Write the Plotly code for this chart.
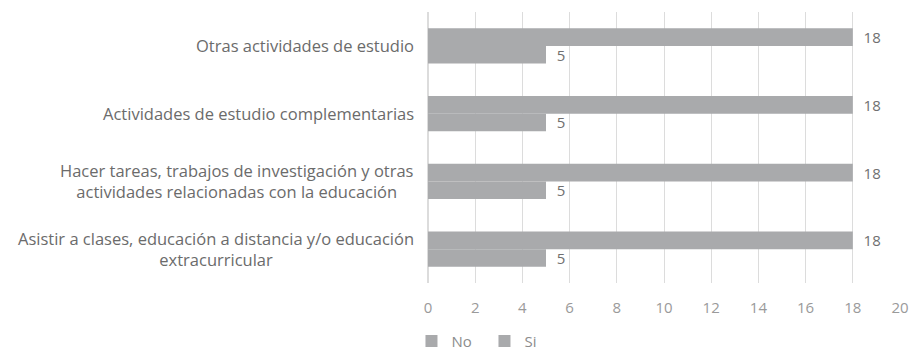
import plotly.graph_objects as go

# Categories listed from bottom to top of the chart
categorias = [
    "Asistir a clases, educación a distancia y/o educación<br>extracurricular",
    "Hacer tareas, trabajos de investigación y otras<br>actividades relacionadas con la educación",
    "Actividades de estudio complementarias",
    "Otras actividades de estudio",
]
valores_no = [18, 18, 18, 18]
valores_si = [5, 5, 5, 5]
ticks_x = [0, 2, 4, 6, 8, 10, 12, 14, 16, 18, 20]

FONT = "Open Sans"
BAR_COLOR = "#a9aaac"

fig = go.Figure()
# "Si" is added first so that it sits below "No" within each group
fig.add_trace(go.Bar(
    name="Si", y=categorias, x=valores_si, orientation="h",
    marker=dict(color=BAR_COLOR, line=dict(width=0)),
    text=["  " + str(v) for v in valores_si], textposition="outside",
    constraintext="none",
    textfont=dict(color="#707070", size=15, family=FONT),
    cliponaxis=False, legendrank=2,
))
fig.add_trace(go.Bar(
    name="No", y=categorias, x=valores_no, orientation="h",
    marker=dict(color=BAR_COLOR, line=dict(width=0)),
    text=["  " + str(v) for v in valores_no], textposition="outside",
    constraintext="none",
    textfont=dict(color="#707070", size=15, family=FONT),
    cliponaxis=False, legendrank=1,
))

# Category labels drawn as centred annotations next to the axis
for c in categorias:
    fig.add_annotation(
        xref="paper", yref="y", x=0, y=c, text=c, showarrow=False,
        xanchor="right", xshift=-12, align="center",
        font=dict(color="#6b6b6b", size=16.5, family=FONT),
    )

fig.update_layout(
    width=911, height=355,
    margin=dict(l=428, r=11, t=12, b=72, autoexpand=False),
    paper_bgcolor="white", plot_bgcolor="white",
    barmode="group", bargap=0.48, bargroupgap=0,
    font=dict(family=FONT, color="#8c8c8c", size=15),
    showlegend=True,
    legend=dict(
        orientation="h", x=-0.035, xanchor="left", y=-0.215, yanchor="middle",
        font=dict(size=15, color="#8c8c8c", family=FONT),
        itemwidth=30, tracegroupgap=0, entrywidth=28, entrywidthmode="pixels",
    ),
    xaxis=dict(
        range=[0, 20], tickvals=ticks_x, showgrid=True, gridcolor="#dcdcdc",
        gridwidth=1, zeroline=True, zerolinecolor="#dcdcdc", showline=False,
        ticks="", ticklabelstandoff=14, tickfont=dict(size=15, color="#9a9a9a"),
    ),
    yaxis=dict(
        type="category", categoryorder="array", categoryarray=categorias,
        showticklabels=False, showgrid=False, zeroline=False, showline=False,
        ticks="",
    ),
)

fig.write_html("out.html")
